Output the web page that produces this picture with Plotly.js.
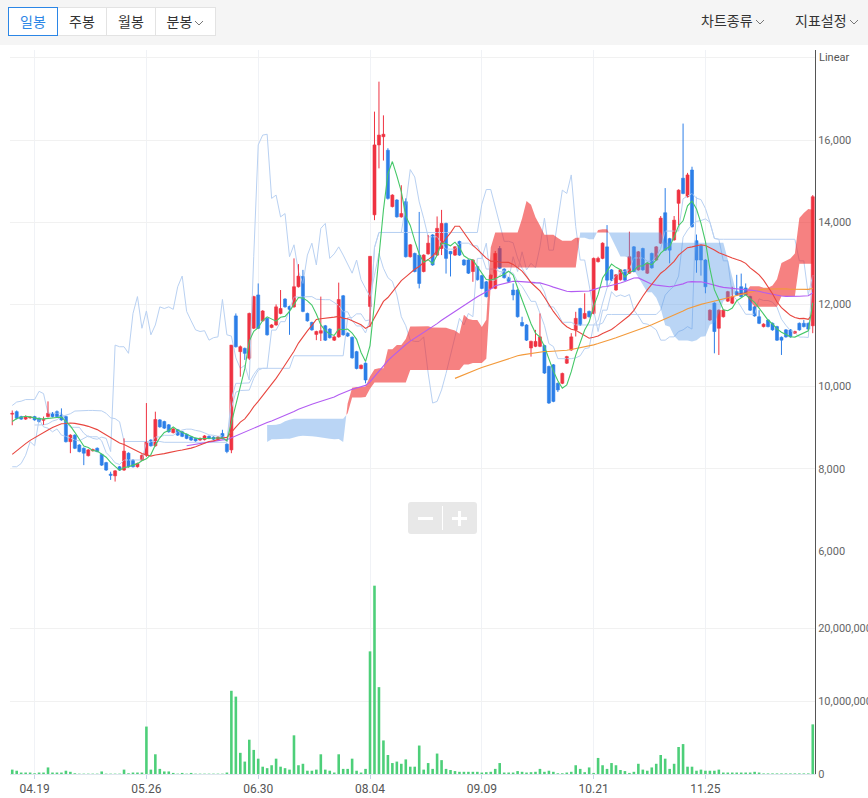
<!DOCTYPE html>
<html><head><meta charset="utf-8">
<script src="https://cdn.plot.ly/plotly-3.0.1.min.js"></script>
<style>
html,body{margin:0;padding:0;background:#fff;width:868px;height:798px;overflow:hidden;font-family:"Noto Sans CJK KR","Noto Sans",sans-serif;}
#hdr{position:absolute;left:0;top:0;width:868px;height:45px;background:#f5f5f5;}
.grp{position:absolute;left:8px;top:7px;height:29px;}
.b{position:absolute;top:0;height:27px;line-height:27px;border:1px solid #e3e3e3;background:#fff;color:#333;font-size:14px;text-align:center;box-sizing:content-box;}
.b.sel{border-color:#2b86e6;color:#2b86e6;z-index:2;}
.menu{position:absolute;top:10px;font-size:14px;color:#333;white-space:nowrap;}
.menu svg,.b svg{vertical-align:middle;margin-left:2px;}
#chart{position:absolute;left:0;top:45px;width:868px;height:753px;}
#zoomctl{position:absolute;left:408px;top:502px;width:69px;height:32px;background:#e8e8e8;border-radius:3px;}
.zb{position:absolute;background:#fff;}
</style></head>
<body>
<div id="hdr">
  <div class="grp">
    <div class="b sel" style="left:0;width:48px;">일봉</div>
    <div class="b" style="left:49px;width:48px;">주봉</div>
    <div class="b" style="left:98px;width:48px;">월봉</div>
    <div class="b" style="left:147px;width:59px;">분봉<svg width="10" height="7"><polyline points="1,1 5,5 9,1" fill="none" stroke="#777" stroke-width="1"/></svg></div>
  </div>
  <div class="menu" style="left:701px;">차트종류<svg width="10" height="7"><polyline points="1,1 5,5 9,1" fill="none" stroke="#777" stroke-width="1"/></svg></div>
  <div class="menu" style="left:795px;">지표설정<svg width="10" height="7"><polyline points="1,1 5,5 9,1" fill="none" stroke="#777" stroke-width="1"/></svg></div>
</div>
<div id="chart"></div>
<div id="zoomctl">
  <div class="zb" style="left:10px;top:15px;width:15px;height:3px;"></div>
  <div class="zb" style="left:34px;top:4px;width:1px;height:24px;"></div>
  <div class="zb" style="left:44px;top:15px;width:15px;height:3px;"></div>
  <div class="zb" style="left:50px;top:9px;width:3px;height:15px;"></div>
</div>
<script>
// ---- data (daily candles) ----
const preOpen  = [7480,7530,7410,7460,7590,7650,7820,7880,7950,8120,8100,8290,8350,8520,8560,8700,8760,8880,9050,9150];
const preHigh  = [7560,7550,7500,7650,7700,7870,7910,8020,8150,8170,8330,8400,8550,8620,8720,8800,8900,9120,10750,10600];
const preLow   = [7450,7380,7390,7440,7570,7640,7800,7860,7930,8060,8080,8270,8330,8500,8540,8680,8740,8620,9020,9100];
const preClose = [7530,7400,7470,7620,7660,7840,7870,7990,8110,8090,8300,8360,8500,8580,8690,8770,8870,9060,9140,9340];

const open = [
9330,9390,9270,9210,9240,9270,9230,9180,9270,9350,
9390,9310,9270,8660,8820,8580,8500,8320,8440,8500,
8350,8150,7870,7830,8050,7970,8380,8210,8050,8210,
8330,8700,8560,9190,9150,9070,8880,8950,8900,8840,
8780,8740,8700,8710,8790,8770,8720,8860,8600,8460,
11720,10850,10930,10690,11420,12230,11600,11660,11440,11500,
11780,12130,11950,11940,12430,12680,11780,11560,11270,11300,
11480,11400,11130,11210,12210,11300,11200,10850,10440,10570,
11950,14180,15880,16080,15750,14380,14540,14130,14500,13160,
13240,13200,12800,13230,13690,13200,13360,13970,13290,13200,
13530,13080,13080,12800,12920,12700,12550,12390,12390,13360,
12860,12650,12350,12350,11560,11500,10940,10980,10980,11000,
10490,10530,10080,10080,10570,10890,11380,11900,11660,11830,
11780,13040,13120,13400,12840,12350,12600,12840,12760,13400,
12840,13360,12760,13240,13080,13490,14230,13600,13570,14460,
15070,14620,15270,13550,13430,13080,11620,12030,11420,11700,
12080,12030,12310,12430,12400,12190,11940,11700,11460,11620,
11540,11460,11200,11380,11380,11300,11540,11540,11540,11480];
const high = [
9420,9420,9290,9300,9280,9290,9250,9270,9640,9380,
9420,9470,9290,8840,8840,8600,8520,8480,8490,8520,
8370,8170,7930,7970,8070,8740,8400,8230,8150,8350,
9600,8720,9390,9210,9170,9090,8990,8970,8920,8860,
8800,8760,8760,8820,8810,8790,8790,8950,8620,11010,
11780,11000,10950,11800,12210,12510,11860,11680,11520,12000,
12350,12150,11970,13120,12980,12840,11800,11580,11360,12190,
11500,11420,11230,12530,12230,11320,11220,10870,10540,10590,
13170,16690,17420,16600,15800,14680,14560,14900,14580,13470,
13260,14250,13220,13690,13710,14140,14300,13990,13300,13420,
13550,13100,13100,13100,12940,12720,12570,12730,13300,13420,
12880,12670,12510,12370,11700,11520,11120,11380,11780,11020,
10510,10550,10100,10340,10750,11300,11820,11920,12270,11850,
13140,13160,13510,13930,12860,12740,12860,12860,13770,13420,
13300,13380,13020,13260,13420,14150,14830,13620,14150,14800,
16400,15200,15350,13700,13450,13100,11880,12050,11880,11880,
12330,12430,12720,12750,12510,12210,11960,11860,11540,11640,
11560,11480,11220,11400,11400,11360,11560,11620,11560,14660];
const low = [
9060,9200,9190,9190,9220,9170,9130,9070,9250,9250,
9250,9170,8640,8380,8480,8400,8090,8300,8420,8400,
8070,7950,7730,7690,7950,7950,8030,8030,8030,8190,
8290,8540,8540,9000,8970,8880,8860,8800,8770,8720,
8680,8660,8680,8690,8720,8700,8700,8720,8380,8380,
10950,10240,10650,10650,11400,11400,11580,11240,11420,11480,
11760,11920,11260,11920,12410,11810,11580,11360,11130,11110,
11110,11170,11110,11190,11240,11210,10680,10420,10420,10080,
11450,14050,15310,15500,14550,14360,14110,14110,13140,13140,
12780,12390,12780,13210,12940,13180,13200,12750,12680,13180,
13180,12940,12740,12550,12580,12370,12170,12370,12370,12860,
12630,12540,12100,11680,11460,11110,10730,10960,10960,10310,
9580,9620,9870,10060,10550,10870,11220,11480,11640,11680,
11760,13020,13100,12450,12570,12330,12580,12570,12740,12780,
12820,12820,12740,12870,13060,13470,13300,13000,13550,13930,
14680,14600,13870,12770,12700,12270,11600,10810,10770,11680,
12060,12010,12210,12170,12220,11840,11700,11520,11440,11440,
11360,11110,10770,11190,11190,11280,11360,11440,11380,11300];
const close = [
9350,9230,9210,9270,9260,9190,9150,9200,9350,9270,
9270,9190,8660,8820,8500,8420,8380,8460,8470,8420,
8090,7970,7840,7950,7970,8430,8050,8050,8130,8330,
8660,8560,9200,9020,8990,8900,8970,8820,8790,8740,
8700,8680,8740,8800,8740,8720,8770,8740,8420,11010,
10970,10970,10810,11780,12190,11420,11840,11260,11500,11940,
11900,11940,11880,12430,12690,11830,11600,11380,11340,11360,
11130,11190,11210,12120,11260,11230,10700,10440,10520,10160,
13170,15880,16120,16140,14580,14660,14130,14210,13160,13450,
12800,12510,13200,13490,12960,13850,13970,13120,13230,13400,
13200,12960,12760,13080,12600,12390,12190,12710,13240,12880,
12650,12560,12230,11700,11480,11130,11100,11100,11210,10330,
9600,9640,9920,10320,10730,11210,11660,11500,11780,11700,
13120,13120,13490,12590,12590,12720,12840,12590,13160,12800,
13280,12840,13000,12890,13400,14100,13320,13320,14050,14780,
14700,15150,13890,13080,13080,12430,11860,11340,11860,11860,
12310,12190,12230,12190,12240,11860,11720,11540,11520,11460,
11380,11130,11130,11210,11210,11340,11380,11460,11400,14620];
const volume = [
600000,450000,200000,200000,200000,100000,200000,200000,900000,200000,
200000,200000,450000,300000,100000,50000,50000,50000,50000,50000,
350000,50000,50000,50000,50000,600000,100000,200000,200000,200000,
6500000,600000,2700000,700000,350000,350000,150000,50000,150000,50000,
150000,50000,50000,50000,50000,50000,50000,50000,200000,11400000,
10600000,2900000,1700000,4700000,3300000,2100000,1000000,800000,1200000,2100000,
1000000,800000,600000,5300000,1200000,1400000,450000,450000,600000,2700000,
600000,450000,200000,2700000,700000,700000,2100000,450000,200000,700000,
16800000,25800000,11900000,4600000,2600000,1500000,1700000,1400000,2000000,1000000,
1000000,3900000,600000,1500000,700000,2800000,1900000,700000,550000,400000,
300000,300000,300000,300000,300000,200000,250000,300000,700000,1500000,
200000,200000,200000,400000,300000,200000,250000,300000,700000,300000,
450000,300000,100000,100000,200000,300000,1200000,700000,250000,900000,
150000,2200000,1200000,700000,1500000,1200000,550000,400000,150000,300000,
1400000,600000,450000,900000,1400000,2600000,2100000,700000,1400000,3700000,
4100000,1000000,1000000,450000,600000,450000,450000,450000,600000,200000,
200000,200000,200000,200000,200000,200000,300000,200000,80000,80000,
80000,80000,80000,80000,80000,80000,80000,80000,80000,6800000];
const tickIdx  = [5,30,55,80,105,130,155];
const tickText = ['04.19','05.26','06.30','08.04','09.09','10.21','11.25'];
const priceTicks = [6000,8000,10000,12000,14000,16000,18000];
const priceTickText = ['6,000','8,000','10,000','12,000','14,000','16,000',''];
const volTicks = [0,10000000,20000000];
const volTickText = ['0','10,000,000','20,000,000'];
const maPeriods = [120,60,20,5];
const maColors  = ['#f39a3b','#b25cf2','#e8463f','#45c868'];

// ---- indicators computed from the candles ----
const N = open.length, P = preOpen.length;
const fH = preHigh.concat(high), fL = preLow.concat(low), fC = preClose.concat(close);
const xs = open.map((_, i) => i);
function sma(p){ return xs.map(i=>{const k=i+P; if(k-p+1<0) return null; let s=0; for(let j=k-p+1;j<=k;j++) s+=fC[j]; return s/p;}); }
function mid(p,k){ if(k<0||k-p+1<0) return null; let hi=-Infinity,lo=Infinity; for(let j=k-p+1;j<=k;j++){hi=Math.max(hi,fH[j]);lo=Math.min(lo,fL[j]);} return (hi+lo)/2; }
const tenkan = xs.map(i=>mid(9,i+P));
const kijun  = xs.map(i=>mid(26,i+P));
const spanA  = xs.map(i=>{const k=i+P-26; const t=mid(9,k), b=mid(26,k); return (t==null||b==null)?null:(t+b)/2;});
const spanB  = xs.map(i=>mid(52,i+P-26));
const chikou = xs.map(i=> i+26<N ? close[i+26] : null);

const RED='#ef3342', BLUE='#2d7fe8';
const RED_CLOUD='rgba(240,45,45,0.6)', BLUE_CLOUD='rgba(90,155,230,0.42)';
const ICHI='#b9d1f2';

const traces=[];
// volume
traces.push({type:'bar',x:xs,y:volume,xaxis:'x',yaxis:'y2',width:0.58,marker:{color:'#4dcf79',line:{width:0}},hoverinfo:'skip'});
// ichimoku lines
[tenkan,kijun,chikou].forEach(arr=>traces.push({type:'scatter',mode:'lines',x:xs,y:arr,xaxis:'x',yaxis:'y',line:{color:ICHI,width:1},hoverinfo:'skip',connectgaps:false}));
// candles
const upIdx=xs.filter(i=>close[i]>=open[i]), dnIdx=xs.filter(i=>close[i]<open[i]);
function addCandles(ids,col){
  const wx=[],wy=[];
  ids.forEach(i=>{wx.push(i,i,null); wy.push(low[i],high[i],null);});
  traces.push({type:'scatter',mode:'lines',x:wx,y:wy,xaxis:'x',yaxis:'y',line:{color:col,width:1},hoverinfo:'skip'});
  traces.push({type:'bar',x:ids,base:ids.map(i=>Math.min(open[i],close[i])),y:ids.map(i=>Math.abs(close[i]-open[i])),xaxis:'x',yaxis:'y',width:0.68,marker:{color:col,line:{color:col,width:0.6}},hoverinfo:'skip'});
}
addCandles(upIdx,RED); addCandles(dnIdx,BLUE);
// cloud
let seg=null;
function flush(){ if(seg&&seg.xa.length>1){ traces.push({type:'scatter',mode:'lines',x:seg.xa.concat(seg.xb.slice().reverse()),y:seg.ya.concat(seg.yb.slice().reverse()),fill:'toself',fillcolor:seg.up?RED_CLOUD:BLUE_CLOUD,line:{width:0},xaxis:'x',yaxis:'y',hoverinfo:'skip'}); } seg=null; }
for(let i=0;i<N;i++){
  const a=spanA[i], b=spanB[i];
  if(a==null||b==null){flush();continue;}
  const up=a>=b;
  if(!seg){seg={up,xa:[i],ya:[a],xb:[i],yb:[b]};continue;}
  if(up!==seg.up){
    const a0=spanA[i-1], b0=spanB[i-1], d0=a0-b0, d1=a-b, t=d0/(d0-d1);
    const xc=i-1+t, yc=a0+t*(a-a0);
    seg.xa.push(xc);seg.ya.push(yc);seg.xb.push(xc);seg.yb.push(yc);
    flush();
    seg={up,xa:[xc,i],ya:[yc,a],xb:[xc,i],yb:[yc,b]};
  } else {seg.xa.push(i);seg.ya.push(a);seg.xb.push(i);seg.yb.push(b);}
}
flush();
// moving averages
maPeriods.forEach((p,j)=>traces.push({type:'scatter',mode:'lines',x:xs,y:sma(p),xaxis:'x',yaxis:'y',line:{color:maColors[j],width:1.1},hoverinfo:'skip'}));

const layout={
  width:868,height:753,margin:{l:10,r:53,t:5,b:24},
  paper_bgcolor:'#ffffff',plot_bgcolor:'#ffffff',showlegend:false,barmode:'overlay',
  font:{family:'Roboto, "Noto Sans", sans-serif',color:'#555'},
  xaxis:{range:[-0.5,N-0.5],anchor:'y2',tickmode:'array',tickvals:tickIdx,ticktext:tickText,showgrid:true,gridcolor:'#f0f2f6',gridwidth:1,
         showline:true,linecolor:'#dfe5ee',ticks:'outside',ticklen:4,tickcolor:'#c8d3e6',tickfont:{size:12,color:'#555'},zeroline:false,fixedrange:true},
  yaxis:{domain:[0.308,1],range:[6000,18190],side:'right',anchor:'x',tickmode:'array',tickvals:priceTicks,ticktext:priceTickText,
         showgrid:true,gridcolor:'#f1f1f1',showline:true,linecolor:'#555',linewidth:1,ticks:'',tickfont:{size:11,color:'#666'},zeroline:false},
  yaxis2:{domain:[0,0.308],range:[0,30550000],side:'right',anchor:'x',tickmode:'array',tickvals:volTicks,ticktext:volTickText,
         showgrid:true,gridcolor:'#f1f1f1',showline:true,linecolor:'#555',linewidth:1,ticks:'',tickfont:{size:11,color:'#666'},zeroline:false},
  annotations:[{xref:'paper',yref:'y',x:1,y:18000,xanchor:'left',xshift:2,text:'Linear',showarrow:false,font:{size:11,color:'#555'}}]
};
Plotly.newPlot('chart',traces,layout,{displayModeBar:false,staticPlot:true});
</script>
</body></html>
